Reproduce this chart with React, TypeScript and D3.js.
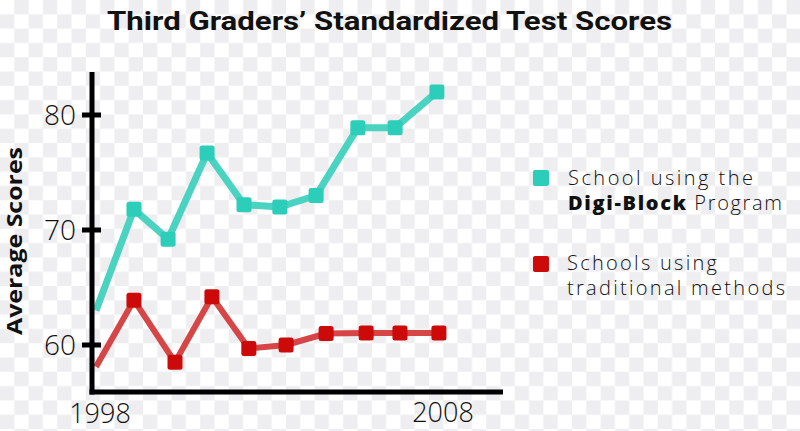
import React from "react";
import * as d3 from "d3";

const W = 800;
const H = 431;

const title = "Third Graders’ Standardized Test Scores";
const yAxisTitle = "Average Scores";
const yTicks = [60, 70, 80];
const xTickYears = [1998, 2008];

// Digi-Block program schools
const tealYears = [1998, 1999.1, 2000.09, 2001.22, 2002.29, 2003.33, 2004.38, 2005.59, 2006.67, 2007.88];
const tealScores = [63.0, 71.8, 69.2, 76.7, 72.2, 72.0, 73.0, 78.9, 78.9, 82.0];

// Traditional methods schools
const redYears = [1998, 1999.1, 2000.29, 2001.36, 2002.43, 2003.51, 2004.67, 2005.83, 2006.81, 2007.94];
const redScores = [58.1, 63.9, 58.5, 64.2, 59.7, 60.0, 61.0, 61.05, 61.05, 61.05];

const TEAL_MARK = "#2ccdb9";
const TEAL_LINE = "#4ad3c0";
const RED_MARK = "#cc0a0a";
const RED_LINE = "#d64646";

export default function App() {
  const x = d3.scaleLinear().domain([1998, 2008]).range([96, 441]);
  const y = d3.scaleLinear().domain([60, 80]).range([345, 115]);

  const tealData = tealYears.map((yr, i) => ({ yr, v: tealScores[i] }));
  const redData = redYears.map((yr, i) => ({ yr, v: redScores[i] }));

  const line = d3
    .line<{ yr: number; v: number }>()
    .x((d) => x(d.yr))
    .y((d) => y(d.v));

  const ms = 15;
  const axisX = 92;
  const axisBottom = 392;
  const font = "'Open Sans', sans-serif";

  return (
    <svg
      width={W}
      height={H}
      style={{ position: "absolute", left: 0, top: 0, display: "block" }}
    >
      <defs>
        <pattern id="checker" width={28.6} height={28.6} patternUnits="userSpaceOnUse">
          <rect width={28.6} height={28.6} fill="#ffffff" />
          <rect x={14.3} y={0} width={14.3} height={14.3} fill="#eeedf0" />
          <rect x={0} y={14.3} width={14.3} height={14.3} fill="#eeedf0" />
        </pattern>
        <clipPath id="plotclip">
          <rect x={axisX} y={0} width={W} height={axisBottom} />
        </clipPath>
      </defs>
      <rect width={W} height={H} fill="url(#checker)" />

      {/* title */}
      <text
        x={107}
        y={30}
        fontFamily="Roboto, sans-serif"
        fontWeight={700}
        fontSize={26}
        fill="#111"
        textLength={565}
        lengthAdjust="spacingAndGlyphs"
      >
        {title}
      </text>

      {/* lines */}
      <g clipPath="url(#plotclip)">
        <path d={line(tealData) || ""} fill="none" stroke={TEAL_LINE} strokeWidth={7} strokeLinejoin="round" />
        <path d={line(redData) || ""} fill="none" stroke={RED_LINE} strokeWidth={6} strokeLinejoin="round" />
      </g>

      {/* markers */}
      {tealData.slice(1).map((d, i) => (
        <rect
          key={"t" + i}
          x={x(d.yr) - ms / 2}
          y={y(d.v) - ms / 2}
          width={ms}
          height={ms}
          rx={2.5}
          fill={TEAL_MARK}
        />
      ))}
      {redData.slice(1).map((d, i) => (
        <rect
          key={"r" + i}
          x={x(d.yr) - ms / 2}
          y={y(d.v) - ms / 2}
          width={ms}
          height={ms}
          rx={2.5}
          fill={RED_MARK}
        />
      ))}

      {/* axes */}
      <line x1={axisX} y1={72} x2={axisX} y2={axisBottom + 2.5} stroke="#000" strokeWidth={5} />
      <line x1={axisX - 2.5} y1={axisBottom} x2={503} y2={axisBottom} stroke="#000" strokeWidth={5} />
      {yTicks.map((t) => (
        <g key={t}>
          <line x1={82} x2={101} y1={y(t)} y2={y(t)} stroke="#000" strokeWidth={5} />
          <text
            x={76}
            y={y(t) + 10}
            textAnchor="end"
            fontFamily={font}
            fontWeight={300}
            fontSize={28}
            fill="#111"
          >
            {t}
          </text>
        </g>
      ))}
      {xTickYears.map((yr, i) => (
        <text
          key={yr}
          x={x(yr) + (i === 0 ? 4 : 2)}
          y={i === 0 ? 423 : 422}
          textAnchor="middle"
          fontFamily={font}
          fontWeight={300}
          fontSize={27}
          fill="#111"
        >
          {yr}
        </text>
      ))}

      {/* y axis title */}
      <text
        transform={`translate(22, 241) rotate(-90)`}
        textAnchor="middle"
        fontFamily={font}
        fontWeight={700}
        fontSize={21}
        fill="#111"
        textLength={188}
        lengthAdjust="spacingAndGlyphs"
      >
        {yAxisTitle}
      </text>

      {/* legend */}
      <rect x={533} y={170} width={16} height={16} rx={2} fill={TEAL_MARK} />
      <text x={568} y={185} fontFamily={font} fontWeight={300} fontSize={20} fill="#111" textLength={185} lengthAdjust="spacing">
        School using the
      </text>
      <text x={568} y={210} fontFamily={font} fontSize={20} fill="#111" textLength={214} lengthAdjust="spacing">
        <tspan fontWeight={800}>Digi-Block</tspan>
        <tspan fontWeight={300}> Program</tspan>
      </text>

      <rect x={533} y={256} width={16} height={16} rx={2} fill={RED_MARK} />
      <text x={567} y={270} fontFamily={font} fontWeight={300} fontSize={20} fill="#111" textLength={150} lengthAdjust="spacing">
        Schools using
      </text>
      <text x={567} y={295} fontFamily={font} fontWeight={300} fontSize={20} fill="#111" textLength={218} lengthAdjust="spacing">
        traditional methods
      </text>
    </svg>
  );
}
